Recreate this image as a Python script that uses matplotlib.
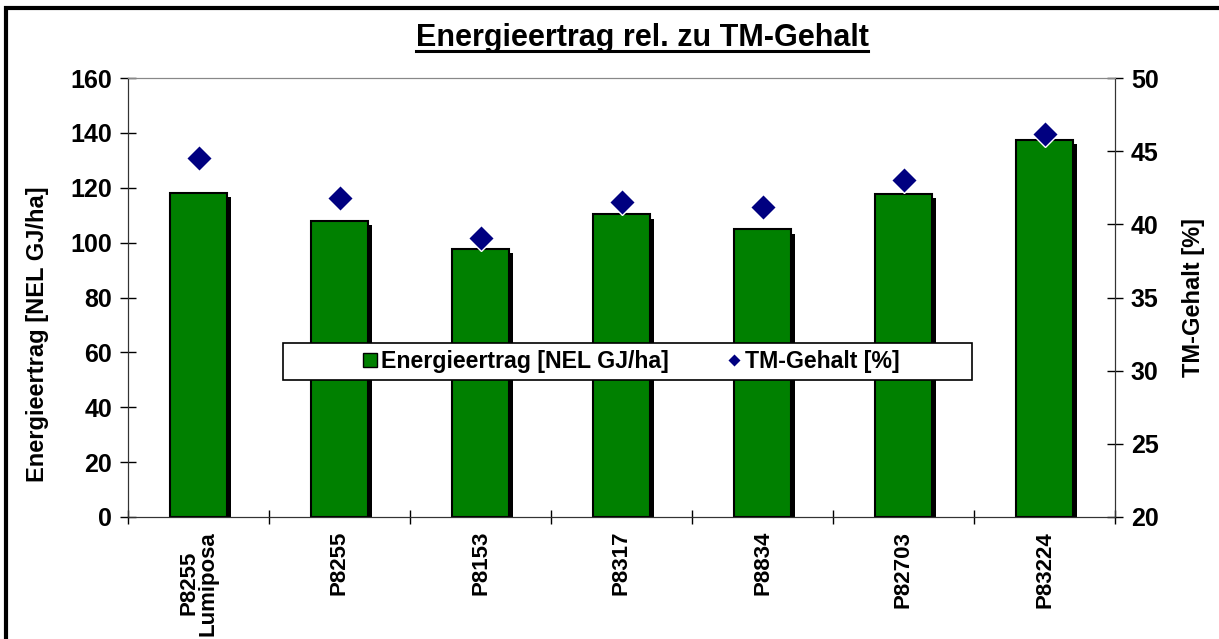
import matplotlib
matplotlib.use("Agg")
import matplotlib.pyplot as plt
import matplotlib.patheffects as pe
from matplotlib.lines import Line2D
from matplotlib.patches import Rectangle
import numpy as np

plt.rcParams['font.family'] = ['Liberation Sans', 'DejaVu Sans']

sorten = ['P8255\nLumiposa', 'P8255', 'P8153', 'P8317', 'P8834', 'P82703', 'P83224']
energie = [118.1, 107.8, 97.7, 110.3, 104.8, 117.9, 137.5]
tm_gehalt = [44.5, 41.8, 39.1, 41.5, 41.2, 43.0, 46.2]

W, H = 1219, 639
fig = plt.figure(figsize=(W / 100, H / 100), dpi=100)
ax = fig.add_axes([128 / W, 1 - 517 / H, (1115 - 128) / W, (517 - 78) / H])

# outer frame (only left and top edges visible in the original)
fig.patches.append(Rectangle((6 / W, -0.1), 1.2, 1 - 8 / H + 0.1,
                             transform=fig.transFigure, fill=False,
                             edgecolor='black', linewidth=3))

x = np.arange(len(sorten))
shadow = [pe.SimplePatchShadow(offset=(3, -3), shadow_rgbFace='black', alpha=1.0),
          pe.Normal()]
bars = ax.bar(x, energie, width=0.4, color='#008000', edgecolor='black',
              linewidth=1.5, zorder=2)
for b in bars:
    b.set_path_effects(shadow)

ax.set_xlim(-0.5, len(sorten) - 0.5)
ax.set_ylim(0, 160)
ax.set_yticks(range(0, 161, 20))
ax.set_xticks(np.arange(-0.5, len(sorten), 1.0))
ax.set_xticklabels([])
ax.set_xticks(x, minor=True)
ax.set_xticklabels(sorten, minor=True, rotation=90, ha='center', va='top',
                   fontsize=16, fontweight='bold', linespacing=0.9)
ax.tick_params(axis='x', which='minor', length=0, pad=10)
ax.tick_params(axis='x', which='major', direction='inout', length=10, width=1)
ax.tick_params(axis='y', direction='inout', length=11, width=1, labelsize=18, pad=6)
for lbl in ax.get_yticklabels():
    lbl.set_fontweight('bold')
ax.set_ylabel('Energieertrag [NEL GJ/ha]', fontsize=17, fontweight='bold')
ax.yaxis.set_label_coords(-0.080, 0.417)

ax2 = ax.twinx()
ax2.set_ylim(20, 50)
ax2.set_yticks(range(20, 51, 5))
ax2.plot(x, tm_gehalt, linestyle='none', marker='D', markersize=13,
         markerfacecolor='#000080', markeredgecolor='white', markeredgewidth=1,
         zorder=3)
ax2.tick_params(axis='y', direction='inout', length=11, width=1, labelsize=18, pad=6)
for lbl in ax2.get_yticklabels():
    lbl.set_fontweight('bold')
ax2.set_ylabel('TM-Gehalt [%]', fontsize=17, fontweight='bold')
ax2.yaxis.set_label_coords(1.068, 0.5)

for a in (ax, ax2):
    for side in ('left', 'right', 'bottom'):
        a.spines[side].set_color('#333333')
    a.spines['top'].set_color('#888888')

# legend box like Excel: wide frame, entries centred inside
ax2.add_patch(Rectangle((0.157, 0.312), 0.698, 0.084, transform=ax2.transAxes,
                        facecolor='white', edgecolor='black', linewidth=1.2,
                        zorder=4))
handles = [Line2D([0], [0], marker='s', color='w', markerfacecolor='#008000',
                  markeredgecolor='black', markersize=10),
           Line2D([0], [0], marker='D', color='w', markerfacecolor='#000080',
                  markersize=7)]
leg = ax2.legend(handles, ['Energieertrag [NEL GJ/ha]', 'TM-Gehalt [%]'],
                 loc='center', bbox_to_anchor=(0.510, 0.354), ncol=2,
                 frameon=False, prop={'size': 16.7, 'weight': 'bold'},
                 handlelength=0.6, handletextpad=0.2, columnspacing=2.5)
leg.set_zorder(5)

title = fig.text(642 / W, 1 - 38 / H, 'Energieertrag rel. zu TM-Gehalt',
                 fontsize=22, fontweight='bold', ha='center', va='center')

fig.canvas.draw()
# underline the title
bb = title.get_window_extent()
inv = fig.transFigure.inverted()
(x0, y0), (x1, _) = inv.transform([[bb.x0, bb.y0], [bb.x1, bb.y1]])
fig.add_artist(Line2D([x0, x1], [y0 + 0.003, y0 + 0.003], transform=fig.transFigure,
                      color='black', linewidth=2.2))

fig.savefig('out.png', dpi=100)
